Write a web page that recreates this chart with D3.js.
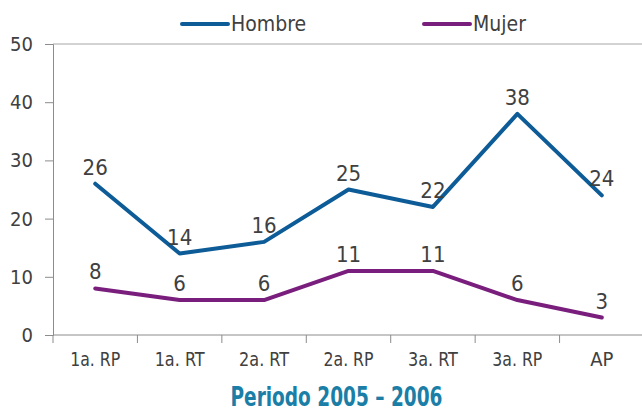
<!DOCTYPE html>
<html>
<head>
<meta charset="utf-8">
<script src="https://cdn.jsdelivr.net/npm/d3@7"></script>
<style>
  body { margin: 0; background: #fff; }
  text { font-family: "DejaVu Sans Condensed", "Liberation Sans Narrow", "Noto Sans", sans-serif; font-stretch: condensed; }
</style>
</head>
<body>
<svg id="chart" width="642" height="411"></svg>
<script>
const categories = ['1a. RP', '1a. RT', '2a. RT', '2a. RP', '3a. RT', '3a. RP', 'AP'];
const hombre = [26, 14, 16, 25, 22, 38, 24];
const mujer = [8, 6, 6, 11, 11, 6, 3];
const yTicks = [0, 10, 20, 30, 40, 50];
const xTitle = 'Periodo 2005 – 2006';

const series = [
  { name: 'Hombre', values: hombre, color: '#0d5c97' },
  { name: 'Mujer', values: mujer, color: '#7a1e7d' }
];

const svg = d3.select('#chart');
const margin = { left: 53, right: -2, top: 44, bottom: 76 };
const width = 642 - margin.left - margin.right;
const height = 411 - margin.top - margin.bottom;

const g = svg.append('g').attr('transform', `translate(${margin.left},${margin.top})`);

const x = d3.scaleBand().domain(categories).range([0, width]);
const y = d3.scaleLinear().domain([0, 50]).range([height, 0]);

// top reference line at 50
g.append('line')
  .attr('x1', 0).attr('x2', width)
  .attr('y1', y(50)).attr('y2', y(50))
  .attr('stroke', '#a6a6a6').attr('stroke-width', 1);

// y axis
const yAxis = g.append('g')
  .call(d3.axisLeft(y).tickValues(yTicks).tickSize(8).tickPadding(12));
yAxis.select('.domain').attr('stroke', '#8c8c8c');
yAxis.selectAll('.tick line').attr('stroke', '#8c8c8c');
yAxis.selectAll('.tick text')
  .attr('fill', '#404040').style('font-size', '20px');

// x axis (ticks on band edges)
const xAxis = g.append('g').attr('transform', `translate(0,${height})`);
xAxis.append('line')
  .attr('x1', 0).attr('x2', width)
  .attr('stroke', '#8c8c8c');
xAxis.selectAll('line.tk')
  .data(categories)
  .join('line')
  .attr('class', 'tk')
  .attr('x1', d => x(d)).attr('x2', d => x(d))
  .attr('y1', 0).attr('y2', 8)
  .attr('stroke', '#8c8c8c');
xAxis.selectAll('text')
  .data(categories)
  .join('text')
  .attr('x', d => x(d) + x.bandwidth() / 2)
  .attr('y', 31)
  .attr('text-anchor', 'middle')
  .attr('fill', '#404040')
  .style('font-size', '20px')
  .attr('textLength', 50)
  .attr('lengthAdjust', 'spacingAndGlyphs')
  .text(d => d);
xAxis.selectAll('text').filter(d => d === 'AP').attr('textLength', null);

// x title
g.append('text')
  .attr('x', width / 2 - 12)
  .attr('y', height + 71)
  .attr('text-anchor', 'middle')
  .attr('fill', '#1b7ea6')
  .style('font-size', '26px')
  .style('font-weight', 'bold')
  .attr('textLength', 212)
  .attr('lengthAdjust', 'spacingAndGlyphs')
  .text(xTitle);

const line = d3.line()
  .x((d, i) => x(categories[i]) + x.bandwidth() / 2)
  .y(d => y(d));

series.forEach(s => {
  g.append('path')
    .datum(s.values)
    .attr('fill', 'none')
    .attr('stroke', s.color)
    .attr('stroke-width', 4)
    .attr('stroke-linejoin', 'round')
    .attr('stroke-linecap', 'round')
    .attr('d', line);

  g.selectAll(null)
    .data(s.values)
    .join('text')
    .attr('x', (d, i) => x(categories[i]) + x.bandwidth() / 2)
    .attr('y', d => y(d) - 9)
    .attr('text-anchor', 'middle')
    .attr('fill', '#404040')
    .style('font-size', '22px')
    .text(d => d);
});

// legend
const legendPos = [{ x: 182, y: 24 }, { x: 424, y: 24 }];
series.forEach((s, i) => {
  const lg = svg.append('g').attr('transform', `translate(${legendPos[i].x},${legendPos[i].y})`);
  lg.append('line')
    .attr('x1', 0).attr('x2', 46)
    .attr('stroke', s.color)
    .attr('stroke-width', 4)
    .attr('stroke-linecap', 'round');
  lg.append('text')
    .attr('x', 49).attr('y', 7)
    .attr('fill', '#404040')
    .style('font-size', '21px')
    .text(s.name);
});
</script>
</body>
</html>
